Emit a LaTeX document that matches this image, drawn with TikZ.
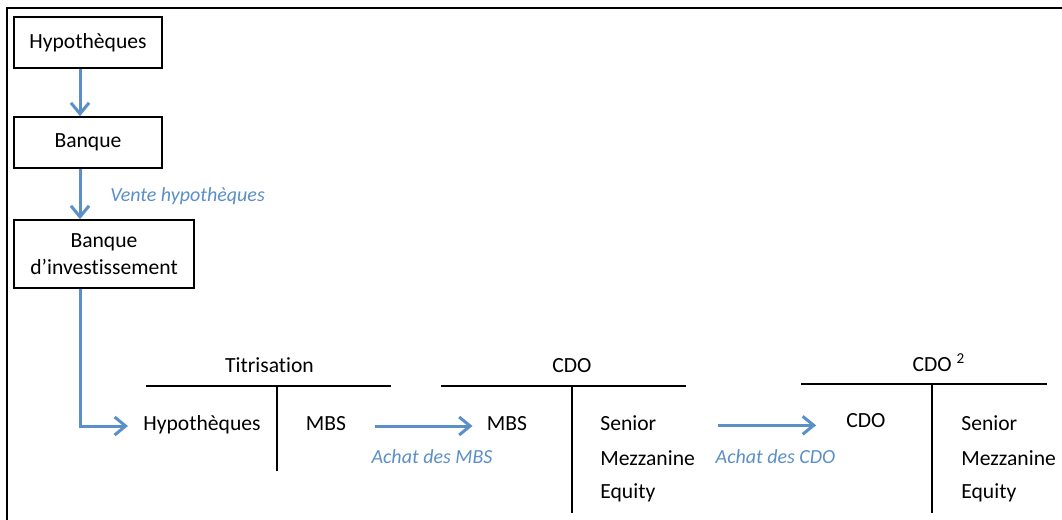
\documentclass[tikz,border=0pt]{standalone}
\usepackage{fontspec}
\setmainfont{Carlito}[Ligatures=NoCommon]
\usetikzlibrary{arrows.meta}
\definecolor{flowblue}{RGB}{91,143,199}

\begin{document}
\begin{tikzpicture}[x=0.5pt, y=-0.5pt,
    font=\fontsize{10.8}{13.5}\selectfont,
    box/.style={rectangle, draw, line width=0.8pt, minimum width=74pt, minimum height=25.5pt, inner sep=0pt},
    lbl/.style={inner sep=0pt, text height=7pt, text depth=2.3pt},
    flowlbl/.style={lbl, text=flowblue, font=\fontsize{10}{12.5}\selectfont\itshape},
    flow/.style={draw=flowblue, line width=1.5pt, -{Straight Barb[length=5.5pt, width=9pt]}},
    tline/.style={line width=0.8pt}]
  \useasboundingbox (0,0) rectangle (1062,520);
  \draw[line width=1pt] (1062,8) -- (7,8) -- (7,520);

  \node (hyp) [box] at (88, 42.5) {Hypothèques};
  \node (bank) [box] at (88, 142.5) {Banque};
  \node (inv) [box, minimum width=90pt, minimum height=34pt, align=center] at (104, 254) {Banque\\d’investissement};
  \coordinate (spine) at (80, 0);
  \node (vente) [flowlbl, anchor=west] at (110, 197) {Vente hypothèques};

  \draw[flow] (hyp.south -| spine) -- (bank.north -| spine);
  \draw[flow] (bank.south -| spine) -- (inv.north -| spine);

  \node (tit) [lbl] at (269.5, 367.3) {Titrisation};
  \draw[tline] (146,386) -- (391,386) (277,386) -- (277,471);
  \node (hypT) [lbl] at (202, 426) {Hypothèques};
  \node (mbs1) [lbl] at (326, 426) {MBS};

  \node (cdo) [lbl] at (572, 368) {CDO};
  \draw[tline] (441,386) -- (686,386) (572,386) -- (572,513);
  \node (mbs2) [lbl] at (507, 426) {MBS};
  \node (sen1) [lbl, anchor=west] at (600, 425.3) {Senior};
  \node (mez1) [lbl, anchor=west] at (600, 460.3) {Mezzanine};
  \node (equ1) [lbl, anchor=west] at (600, 494) {Equity};

  \node (cdosq) [lbl] at (939, 367) {CDO \textsuperscript{2}};
  \draw[tline] (801,384) -- (1047,384) (932,384) -- (932,513);
  \node (cdo2) [lbl] at (866, 422.6) {CDO};
  \node (sen2) [lbl, anchor=west] at (961, 425.3) {Senior};
  \node (mez2) [lbl, anchor=west] at (961, 460.3) {Mezzanine};
  \node (equ2) [lbl, anchor=west] at (961, 494) {Equity};

  \draw[flow] (inv.south -| spine) |- ([xshift=-7.5pt]hypT.west);
  \draw[flow] ([xshift=14.5pt]mbs1.east) -- ([xshift=-7pt]mbs2.west);
  \node (achat1) [flowlbl] at (432, 458.3) {Achat des MBS};
  \draw[flow] ([xshift=59pt]sen1.west) -- ([xshift=-15pt]cdo2.west |- sen1.west);
  \node (achat2) [flowlbl] at (775.5, 458.3) {Achat des CDO};
\end{tikzpicture}
\end{document}
